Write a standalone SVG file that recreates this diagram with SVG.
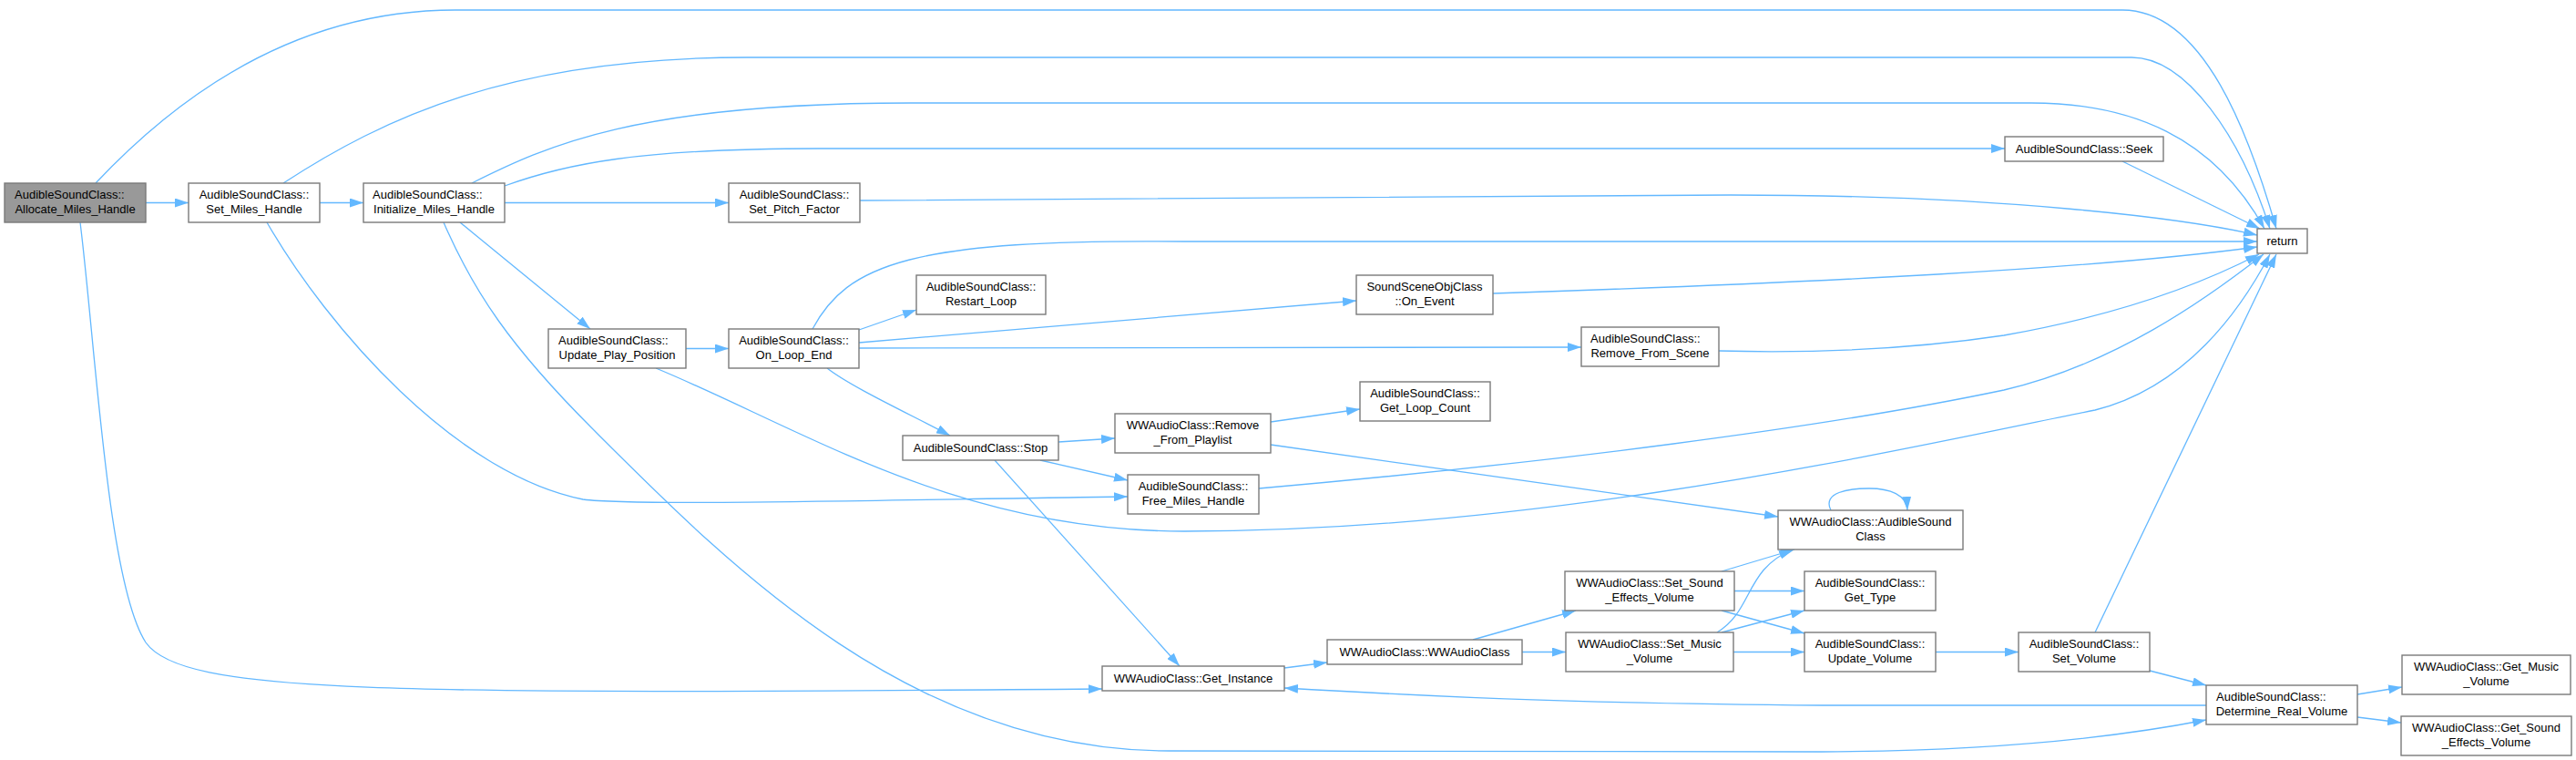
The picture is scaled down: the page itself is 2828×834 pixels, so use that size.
<svg xmlns="http://www.w3.org/2000/svg" width="2828" height="834" viewBox="0 0 2828 834">
<style>
.n rect{fill:#ffffff;stroke:#7a7a7a;stroke-width:1.4}
.n.root rect{fill:#999999}
.n text{font-family:"Liberation Sans",Arial,sans-serif;font-size:13px;fill:#000000}
.m{text-anchor:middle}
.c path{fill:none;stroke:#63b8ff;stroke-width:1.3;marker-end:url(#a)}
</style>
<defs>
<marker id="a" markerUnits="userSpaceOnUse" markerWidth="15" markerHeight="10" refX="15" refY="5" orient="auto" viewBox="0 0 15 10"><path d="M0,0 L15,5 L0,10 z" fill="#63b8ff"/></marker>
</defs>
<rect width="2828" height="834" fill="#ffffff"/>
<g class="c" id="connectors">
<path d="M160,222.5 L207,222.5"/>
<path d="M105,201 C200,100 330,11 500,11 L2330,11 C2420,11 2470,150 2499,251"/>
<path d="M88,244 C105,380 118,640 160,705 C200,762 420,762 1210,756"/>
<path d="M351,222.5 L399,222.5"/>
<path d="M311,201 C420,130 560,63 820,63 L2340,63 C2400,63 2460,150 2492,251"/>
<path d="M554,222.5 L800,222.5"/>
<path d="M518,201 C600,160 700,113 1000,113 L2230,113 C2340,113 2430,150 2486,251"/>
<path d="M554,204 C620,180 700,163 900,163 L2201,163"/>
<path d="M505,244 L648,361"/>
<path d="M487,244 C520,320 560,380 650,470 C800,620 1000,824 1283,824 L2000,825 C2200,824 2330,808 2422,790"/>
<path d="M944,220 L1900,214 C2200,214 2400,240 2478,258"/>
<path d="M2330,177 L2481,251"/>
<path d="M753,382.5 L800,382.5"/>
<path d="M720,404 C880,470 1050,583 1300,583 C1700,583 2100,490 2300,450 C2400,425 2460,340 2492,279"/>
<path d="M1382,536 C1700,508 2000,470 2200,428 C2320,400 2420,330 2485,279"/>
<path d="M943,362 L1006,340"/>
<path d="M943,376 L1489,330"/>
<path d="M943,382 L1736,381"/>
<path d="M908,404 C935,425 1000,455 1043,478"/>
<path d="M892,361 C930,290 1000,262 1300,265 L2478,265"/>
<path d="M1162,485 L1224,481"/>
<path d="M1142,505 L1238,527"/>
<path d="M1092,505 L1295,731"/>
<path d="M1395,463 L1493,449"/>
<path d="M1395,488 L1952,567"/>
<path d="M293,244 C360,360 500,520 640,548 C700,556 1000,548 1238,545"/>
<path d="M1410,733 L1457,727"/>
<path d="M1617,702 L1730,670"/>
<path d="M1671,715.5 L1719,715.5"/>
<path d="M1890,627 L1970,603"/>
<path d="M1904,648.5 L1981,648.5"/>
<path d="M1890,670 L1981,695"/>
<path d="M1885,694 C1925,670 1915,625 1968,603"/>
<path d="M1890,694 L1981,670"/>
<path d="M1903,715.5 L1981,715.5"/>
<path d="M2010,560 C2000,540 2030,536 2052,536 C2075,536 2093,543 2094,560"/>
<path d="M2125,715.5 L2216,715.5"/>
<path d="M2300,694 L2499,279"/>
<path d="M2360,736 L2422,752"/>
<path d="M2422,774 L2000,774 C1750,772 1600,766 1410,755"/>
<path d="M2588,762 L2637,754"/>
<path d="M2588,787 L2636,793"/>
<path d="M1639,322 C2000,310 2300,295 2478,271"/>
<path d="M1887,385 C2000,388 2100,383 2200,368 C2330,345 2420,310 2480,279"/>
</g>
<g class="n root" id="n_alloc"><rect x="5" y="201" width="155" height="43"/><text x="16" y="218">AudibleSoundClass::</text><text class="m" x="82.5" y="234">Allocate_Miles_Handle</text></g>
<g class="n" id="n_setmiles"><rect x="207" y="201" width="144" height="43"/><text class="m" x="279" y="218">AudibleSoundClass::</text><text class="m" x="279" y="234">Set_Miles_Handle</text></g>
<g class="n" id="n_init"><rect x="399" y="201" width="155" height="43"/><text x="409" y="218">AudibleSoundClass::</text><text class="m" x="476.5" y="234">Initialize_Miles_Handle</text></g>
<g class="n" id="n_pitch"><rect x="800" y="201" width="144" height="43"/><text class="m" x="872" y="218">AudibleSoundClass::</text><text class="m" x="872" y="234">Set_Pitch_Factor</text></g>
<g class="n" id="n_seek"><rect x="2201" y="150" width="174" height="27"/><text class="m" x="2288" y="168">AudibleSoundClass::Seek</text></g>
<g class="n" id="n_return"><rect x="2478" y="251" width="55" height="27"/><text class="m" x="2505.5" y="269">return</text></g>
<g class="n" id="n_upp"><rect x="602" y="361" width="151" height="43"/><text x="613" y="378">AudibleSoundClass::</text><text class="m" x="677.5" y="394">Update_Play_Position</text></g>
<g class="n" id="n_loopend"><rect x="800" y="361" width="143" height="43"/><text class="m" x="871.5" y="378">AudibleSoundClass::</text><text class="m" x="871.5" y="394">On_Loop_End</text></g>
<g class="n" id="n_restart"><rect x="1006" y="302" width="142" height="43"/><text class="m" x="1077" y="319">AudibleSoundClass::</text><text class="m" x="1077" y="335">Restart_Loop</text></g>
<g class="n" id="n_onevent"><rect x="1489" y="302" width="150" height="43"/><text class="m" x="1564" y="319">SoundSceneObjClass</text><text class="m" x="1564" y="335">::On_Event</text></g>
<g class="n" id="n_rfs"><rect x="1736" y="359" width="151" height="43"/><text x="1746" y="376">AudibleSoundClass::</text><text class="m" x="1811.5" y="392">Remove_From_Scene</text></g>
<g class="n" id="n_glc"><rect x="1493" y="419" width="143" height="43"/><text class="m" x="1564.5" y="436">AudibleSoundClass::</text><text class="m" x="1564.5" y="452">Get_Loop_Count</text></g>
<g class="n" id="n_stop"><rect x="991" y="478" width="171" height="27"/><text class="m" x="1076.5" y="496">AudibleSoundClass::Stop</text></g>
<g class="n" id="n_rfp"><rect x="1224" y="454" width="171" height="43"/><text class="m" x="1309.5" y="471">WWAudioClass::Remove</text><text class="m" x="1309.5" y="487">_From_Playlist</text></g>
<g class="n" id="n_free"><rect x="1238" y="521" width="144" height="43"/><text class="m" x="1310" y="538">AudibleSoundClass::</text><text class="m" x="1310" y="554">Free_Miles_Handle</text></g>
<g class="n" id="n_asc"><rect x="1952" y="560" width="203" height="43"/><text class="m" x="2053.5" y="577">WWAudioClass::AudibleSound</text><text class="m" x="2053.5" y="593">Class</text></g>
<g class="n" id="n_ssev"><rect x="1718" y="627" width="186" height="43"/><text class="m" x="1811" y="644">WWAudioClass::Set_Sound</text><text class="m" x="1811" y="660">_Effects_Volume</text></g>
<g class="n" id="n_smv"><rect x="1719" y="694" width="184" height="43"/><text class="m" x="1811" y="711">WWAudioClass::Set_Music</text><text class="m" x="1811" y="727">_Volume</text></g>
<g class="n" id="n_gettype"><rect x="1981" y="627" width="144" height="43"/><text class="m" x="2053" y="644">AudibleSoundClass::</text><text class="m" x="2053" y="660">Get_Type</text></g>
<g class="n" id="n_updvol"><rect x="1981" y="694" width="144" height="43"/><text class="m" x="2053" y="711">AudibleSoundClass::</text><text class="m" x="2053" y="727">Update_Volume</text></g>
<g class="n" id="n_getinst"><rect x="1210" y="731" width="200" height="27"/><text class="m" x="1310" y="749">WWAudioClass::Get_Instance</text></g>
<g class="n" id="n_wwac"><rect x="1457" y="702" width="214" height="27"/><text class="m" x="1564" y="720">WWAudioClass::WWAudioClass</text></g>
<g class="n" id="n_setvol"><rect x="2216" y="694" width="144" height="43"/><text class="m" x="2288" y="711">AudibleSoundClass::</text><text class="m" x="2288" y="727">Set_Volume</text></g>
<g class="n" id="n_drv"><rect x="2422" y="752" width="166" height="43"/><text x="2433" y="769">AudibleSoundClass::</text><text class="m" x="2505" y="785">Determine_Real_Volume</text></g>
<g class="n" id="n_gmv"><rect x="2637" y="719" width="185" height="43"/><text class="m" x="2729.5" y="736">WWAudioClass::Get_Music</text><text class="m" x="2729.5" y="752">_Volume</text></g>
<g class="n" id="n_gsev"><rect x="2636" y="786" width="187" height="43"/><text class="m" x="2729.5" y="803">WWAudioClass::Get_Sound</text><text class="m" x="2729.5" y="819">_Effects_Volume</text></g>
</svg>
